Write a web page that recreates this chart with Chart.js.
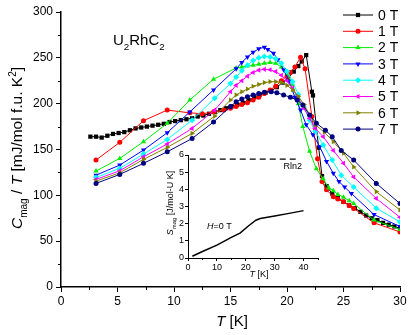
<!DOCTYPE html>
<html>
<head>
<meta charset="utf-8">
<script src="https://cdn.jsdelivr.net/npm/chart.js@4.4.1/dist/chart.umd.min.js"></script>
<style>
    body { margin: 0; background: #fff; }
    #wrap { position: relative; width: 415px; height: 335px; }
    #mainChart { position: absolute; left: 0; top: 0; }
    #insetChart { position: absolute; left: 150px; top: 145px; }
</style>
</head>
<body>
<div id="wrap">
    <canvas id="mainChart" width="415" height="335"></canvas>
    <canvas id="insetChart" width="180" height="140"></canvas>
</div>
<script>
// Datos: T [K] y Cmag/T [mJ/mol f.u. K^2]
var fieldLabels = ['0 T', '1 T', '2 T', '3 T', '4 T', '5 T', '6 T', '7 T'];

var t0T = [2.6, 3.1, 3.6, 4.1, 4.6, 5.1, 5.6, 6.1, 6.6, 7.1, 7.6, 8.1, 8.6, 9.1, 9.6, 10.1, 10.6, 11.1, 11.6, 12.1, 12.6, 13.1, 13.6, 14.1, 14.6, 15.1, 15.6, 16.1, 16.6, 17.1, 17.6, 18.1, 18.6, 19.1, 19.6, 20.1, 20.6, 21.0, 21.3, 21.7, 22.2, 22.3, 22.8, 23.1, 23.5, 24.0, 24.5, 25.0, 25.5, 26.0, 26.5, 27.0, 27.5, 28.0, 28.5, 29.0, 29.5, 30.0];
var c0T = [164, 164, 163, 165, 167, 168, 169, 171, 173, 174, 175, 176, 177, 178, 180, 181, 182, 183, 184, 186, 187, 189, 191, 193, 195, 197, 199, 201, 204, 207, 210, 212, 214, 218, 223, 228, 235, 241, 246, 253, 213, 209, 152, 121, 110, 102, 97, 93, 89, 86, 82, 78, 75, 73, 70, 68, 66, 64];

var t1T = [3.1, 5.2, 7.3, 9.4, 11.4, 12.5, 13.5, 14.4, 15.0, 15.5, 16.0, 16.5, 17.0, 17.5, 18.0, 18.5, 19.0, 19.5, 20.0, 20.3, 20.7, 21.2, 21.6, 22.2, 22.7, 23.1, 23.5, 24.1, 24.5, 25.0, 25.5, 25.9, 27.7, 30.0];
var c1T = [138.5, 157.8, 181.4, 193, 190, 189, 191, 193, 195, 197, 199, 201, 204, 207, 211, 215, 219, 225, 230, 234, 240, 250.7, 238, 186, 140, 115, 106, 98.4, 96, 93, 89, 85.7, 70, 60];

var t2T = [3.1, 5.2, 7.3, 9.4, 11.4, 13.5, 15.5, 16.0, 16.5, 17.0, 17.5, 18.0, 18.5, 19.0, 19.5, 20.0, 20.5, 21.0, 21.4, 22.0, 22.6, 23.2, 23.7, 24.1, 24.5, 25.0, 25.5, 25.9, 27.7, 30.0];
var c2T = [126.5, 140.3, 158.5, 178.6, 204, 226.7, 239, 240, 241, 242, 243, 244, 245, 244, 240, 233, 221, 200, 175, 148, 129, 118, 108, 105, 101, 98, 94, 91, 73, 62.7];

var t3T = [3.1, 5.2, 7.3, 9.4, 11.4, 13.5, 15.5, 16.0, 16.5, 17.0, 17.5, 18.0, 18.3, 18.8, 19.2, 19.7, 20.2, 20.7, 21.2, 21.7, 22.3, 22.9, 23.5, 24.1, 24.6, 25.1, 25.7, 27.7, 30.0];
var c3T = [122, 133, 149.4, 168.3, 191, 215, 238, 245, 251, 256, 260, 261.5, 259, 255, 248, 237, 224, 207, 193, 177, 166, 153, 137, 124, 115, 109, 102, 79, 66];

var t4T = [3.1, 5.2, 7.3, 9.4, 11.6, 13.6, 15.0, 15.5, 16.0, 16.5, 17.0, 17.5, 18.0, 18.5, 19.0, 19.5, 20.0, 20.5, 21.0, 21.5, 22.0, 22.5, 23.2, 24.0, 24.8, 25.9, 27.9, 30.0];
var c4T = [119.5, 129.4, 145, 161, 182, 206, 222, 229, 236, 242, 247, 250, 251.5, 251, 249, 244, 235, 224, 210, 196, 182, 170, 155, 138.5, 122, 109, 86, 71];

var t5T = [3.1, 5.2, 7.3, 9.4, 11.6, 13.6, 15.0, 15.5, 16.0, 16.5, 17.0, 17.5, 18.0, 18.5, 19.0, 19.5, 20.0, 20.5, 21.0, 21.5, 22.0, 22.5, 23.2, 24.1, 25.0, 25.9, 27.9, 30.0];
var c5T = [117.4, 126.8, 142, 156, 173, 193, 213, 220, 225, 230, 234, 236.5, 237.5, 237, 235, 231, 225, 217, 206, 195, 184, 173, 164, 149, 135, 120, 96.6, 76];

var t6T = [3.1, 5.2, 7.3, 9.4, 11.6, 13.6, 15.0, 15.5, 16.0, 16.5, 17.0, 17.5, 18.0, 18.5, 19.0, 19.5, 20.0, 20.5, 21.0, 21.5, 22.0, 22.5, 23.3, 24.1, 25.0, 25.9, 27.9, 30.0];
var c6T = [115.5, 124.6, 139.2, 152.3, 167.6, 186.5, 204, 209.5, 213, 216, 219, 221, 223, 224, 224, 223, 220, 215, 208, 199, 188, 177, 169, 158.5, 146, 131, 104, 84];

var t7T = [3.1, 5.2, 7.3, 9.4, 11.6, 13.5, 15.0, 15.5, 16.0, 16.5, 17.0, 17.5, 18.0, 18.6, 19.1, 19.7, 20.3, 20.9, 21.4, 22.0, 22.6, 23.4, 24.0, 24.8, 25.9, 27.9, 30.0];
var c7T = [113, 122.8, 134.9, 147.5, 162, 180, 197, 202, 205, 207.5, 209.5, 211, 212.5, 213, 212, 209.5, 207, 204, 198.6, 187.6, 178.6, 171, 164, 149, 138.5, 113, 91];

// Inset: entropia magnetica a H = 0 T
var insetT = [1.5, 5, 10, 15, 18, 21, 23.5, 25, 30, 35, 40];
var insetS = [0.1, 0.38, 0.75, 1.2, 1.45, 1.88, 2.2, 2.3, 2.45, 2.6, 2.76];
var rln2T = [0.6, 38];
var rln2S = [5.76, 5.76];

var xTicksMain = [0, 5, 10, 15, 20, 25, 30];
var yTicksMain = [0, 50, 100, 150, 200, 250, 300];

var FONT = '"Liberation Sans", Arial, sans-serif';

function toPoints(xs, ys) {
    return xs.map(function (x, i) { return { x: x, y: ys[i] }; });
}

function fontFor(r, size) {
    var s = (r.sub || r.sup) ? size * 0.65 : size;
    return (r.it ? 'italic ' : '') + s + 'px ' + FONT;
}

// texto con subindices / superindices
function drawRuns(ctx, runs, x, y, size, align) {
    var total = 0;
    runs.forEach(function (r) {
        ctx.font = fontFor(r, size);
        total += ctx.measureText(r.t).width;
    });
    var cx = align === 'center' ? x - total / 2 : x;
    ctx.textAlign = 'left';
    ctx.textBaseline = 'alphabetic';
    runs.forEach(function (r) {
        ctx.font = fontFor(r, size);
        var dy = r.sub ? size * 0.3 : (r.sup ? -size * 0.4 : 0);
        ctx.fillText(r.t, cx, y + dy);
        cx += ctx.measureText(r.t).width;
    });
}

function drawMinor(chart, id, values, len) {
    var ctx = chart.ctx;
    var s = chart.scales[id];
    ctx.save();
    ctx.strokeStyle = '#000';
    ctx.lineWidth = 1;
    ctx.beginPath();
    values.forEach(function (v) {
        if (s.axis === 'x') {
            var px = Math.round(s.getPixelForValue(v)) + 0.5;
            ctx.moveTo(px, s.top);
            ctx.lineTo(px, s.top + len);
        } else {
            var py = Math.round(s.getPixelForValue(v)) + 0.5;
            ctx.moveTo(s.right, py);
            ctx.lineTo(s.right - len, py);
        }
    });
    ctx.stroke();
    ctx.restore();
}

var styles = [
    { color: '#000000', pointStyle: 'rect', radius: 3, rotation: 0 },
    { color: '#ff0000', pointStyle: 'circle', radius: 2.5, rotation: 0 },
    { color: '#00ee00', pointStyle: 'triangle', radius: 3, rotation: 0 },
    { color: '#0000ff', pointStyle: 'triangle', radius: 3, rotation: 180 },
    { color: '#00ffff', pointStyle: 'rectRot', radius: 3, rotation: 0 },
    { color: '#ff00ff', pointStyle: 'triangle', radius: 3, rotation: 270 },
    { color: '#808000', pointStyle: 'triangle', radius: 3, rotation: 90 },
    { color: '#000080', pointStyle: 'circle', radius: 2.5, rotation: 0 }
];

var seriesT = [t0T, t1T, t2T, t3T, t4T, t5T, t6T, t7T];
var seriesC = [c0T, c1T, c2T, c3T, c4T, c5T, c6T, c7T];

var datasets = fieldLabels.map(function (label, i) {
    var st = styles[i];
    return {
        label: label,
        data: toPoints(seriesT[i], seriesC[i]),
        showLine: true,
        borderColor: st.color,
        backgroundColor: st.color,
        borderWidth: 1,
        pointStyle: st.pointStyle,
        pointRadius: st.radius,
        pointRotation: st.rotation,
        pointBorderWidth: 0,
        order: 7 - i
    };
});

// textos, ticks menores y leyenda del grafico principal
var mainDecor = {
    id: 'mainDecor',
    afterDraw: function (chart) {
        var ctx = chart.ctx;
        drawMinor(chart, 'x', [2.5, 7.5, 12.5, 17.5, 22.5, 27.5], 3);
        drawMinor(chart, 'y', [25, 75, 125, 175, 225, 275], 3);

        ctx.save();
        ctx.fillStyle = '#000';
        drawRuns(ctx, [{ t: 'U' }, { t: '2', sub: true }, { t: 'RhC' }, { t: '2', sub: true }], 113, 45, 15, 'left');
        drawRuns(ctx, [{ t: 'T', it: true }, { t: ' [K]' }], 232, 326, 15, 'center');

        ctx.translate(22, 148);
        ctx.rotate(-Math.PI / 2);
        drawRuns(ctx, [{ t: 'C', it: true }, { t: 'mag', sub: true }, { t: ' / ' }, { t: 'T', it: true },
            { t: ' [mJ/mol f.u. K' }, { t: '2', sup: true }, { t: ']' }], 0, 0, 15.5, 'center');
        ctx.restore();

        // leyenda
        ctx.save();
        chart.data.datasets.forEach(function (ds, i) {
            var y = 15 + i * 16.3;
            ctx.strokeStyle = ds.borderColor;
            ctx.fillStyle = ds.borderColor;
            ctx.lineWidth = 1;
            ctx.beginPath();
            ctx.moveTo(343, y);
            ctx.lineTo(373, y);
            ctx.stroke();
            Chart.helpers.drawPoint(ctx, {
                pointStyle: ds.pointStyle, radius: ds.pointRadius,
                rotation: ds.pointRotation, borderWidth: 0
            }, 358, y);
            ctx.fillStyle = '#000';
            ctx.font = '14px ' + FONT;
            ctx.textAlign = 'left';
            ctx.textBaseline = 'middle';
            ctx.fillText(ds.label, 378, y + 1);
        });
        ctx.restore();
    }
};

var tickFont = { family: FONT, size: 12 };

var mainChart = new Chart(document.getElementById('mainChart'), {
    type: 'scatter',
    data: { datasets: datasets },
    options: {
        responsive: false,
        animation: false,
        layout: { padding: { top: 12, right: 15, left: 0, bottom: 0 } },
        plugins: { legend: { display: false }, tooltip: { enabled: false } },
        scales: {
            x: {
                type: 'linear', min: 0, max: 30,
                afterFit: function (s) { s.height = 48; },
                afterBuildTicks: function (s) { s.ticks = xTicksMain.map(function (v) { return { value: v }; }); },
                ticks: { color: '#000', font: tickFont, padding: 2, maxRotation: 0 },
                grid: { drawOnChartArea: false, color: '#000', tickLength: 5, lineWidth: 1 },
                border: { color: '#000', width: 1.5 }
            },
            y: {
                type: 'linear', min: 0, max: 300,
                afterFit: function (s) { s.width = 61; },
                afterBuildTicks: function (s) { s.ticks = yTicksMain.map(function (v) { return { value: v }; }); },
                ticks: { color: '#000', font: tickFont, padding: 3 },
                grid: { drawOnChartArea: false, color: '#000', tickLength: 5, lineWidth: 1 },
                border: { color: '#000', width: 1.5 }
            }
        }
    },
    plugins: [mainDecor]
});

// inset
var insetDecor = {
    id: 'insetDecor',
    afterDraw: function (chart) {
        var ctx = chart.ctx;
        drawMinor(chart, 'x', [5, 15, 25, 35, 45], 2);
        ctx.save();
        ctx.fillStyle = '#000';
        drawRuns(ctx, [{ t: 'T', it: true }, { t: ' [K]' }], 109, 132, 9, 'center');
        drawRuns(ctx, [{ t: 'H', it: true }, { t: '=0 T' }], 57, 84, 9, 'left');
        ctx.font = '9px ' + FONT;
        ctx.textAlign = 'right';
        ctx.fillText('Rln2', 152, 24);
        ctx.translate(23, 58);
        ctx.rotate(-Math.PI / 2);
        drawRuns(ctx, [{ t: 'S', it: true }, { t: 'mag', sub: true }, { t: ' [J/mol-U K]' }], 0, 0, 9, 'center');
        ctx.restore();
    }
};

var smallFont = { family: FONT, size: 9 };

var insetChart = new Chart(document.getElementById('insetChart'), {
    type: 'scatter',
    data: {
        datasets: [{
            data: toPoints(insetT, insetS),
            showLine: true, borderColor: '#000', borderWidth: 1.5, pointRadius: 0
        }, {
            data: toPoints(rln2T, rln2S),
            showLine: true, borderColor: '#000', borderWidth: 1.3, borderDash: [6, 4], pointRadius: 0
        }]
    },
    options: {
        responsive: false,
        animation: false,
        layout: { padding: { top: 10, right: 12, left: 0, bottom: 0 } },
        plugins: { legend: { display: false }, tooltip: { enabled: false } },
        scales: {
            x: {
                type: 'linear', min: 0, max: 45,
                afterFit: function (s) { s.height = 27; },
                afterBuildTicks: function (s) { s.ticks = [0, 10, 20, 30, 40].map(function (v) { return { value: v }; }); },
                ticks: { color: '#000', font: smallFont, padding: 1, maxRotation: 0 },
                grid: { drawOnChartArea: false, color: '#000', tickLength: 3 },
                border: { color: '#000', width: 1 }
            },
            y: {
                type: 'linear', min: 0, max: 6,
                afterFit: function (s) { s.width = 38; },
                afterBuildTicks: function (s) { s.ticks = [0, 1, 2, 3, 4, 5, 6].map(function (v) { return { value: v }; }); },
                ticks: { color: '#000', font: smallFont, padding: 1 },
                grid: { drawOnChartArea: false, color: '#000', tickLength: 3 },
                border: { color: '#000', width: 1 }
            }
        }
    },
    plugins: [insetDecor]
});
</script>
</body>
</html>
